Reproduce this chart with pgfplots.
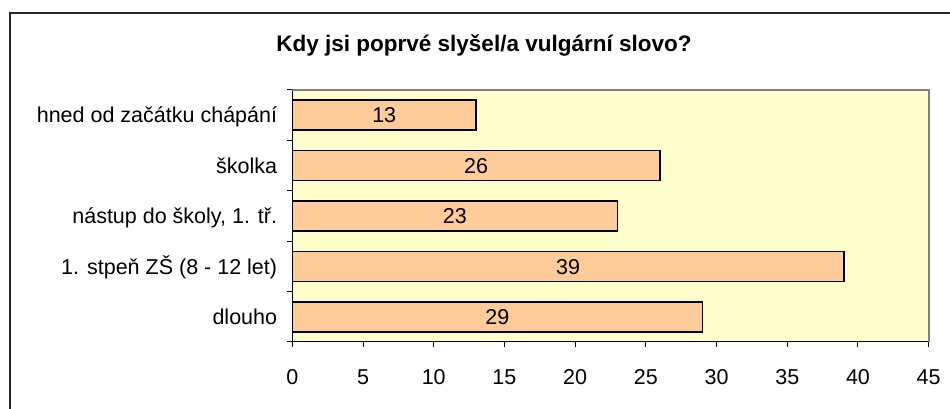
\documentclass[border=0pt]{standalone}
\usepackage{pgfplots}
\pgfplotsset{compat=1.18}
\usepackage{fontspec}
\setmainfont{Liberation Sans}
\definecolor{plotbg}{HTML}{FFFFCC}
\definecolor{barfill}{HTML}{FFCC99}
\newcommand{\lbl}{\fontsize{21.5}{24}\selectfont}
\pgfplotstableread{
x y
29 1
39 2
23 3
26 4
13 5
}\datatable
\begin{document}
\begin{tikzpicture}
\useasboundingbox (0pt,0pt) rectangle (950pt,409pt);
\draw[line width=1.3pt, black!85] (10pt,-2pt) -- (10pt,396pt) -- (952pt,396pt);
\node[font=\bfseries\fontsize{22.5}{25}\selectfont, anchor=base] at (484pt,357.3pt) {Kdy jsi poprvé slyšel/a vulgární slovo?};
\begin{axis}[
  at={(292.3pt,67pt)}, anchor=south west,
  scale only axis, width=636.4pt, height=252pt,
  xmin=0, xmax=45, ymin=0.5, ymax=5.5,
  axis x line*=bottom, axis y line*=left,
  axis line style={-, black, line width=1pt},
  axis background/.style={fill=plotbg},
  xtick={0,5,...,45},
  ytick={1,2,3,4,5},
  yticklabels={dlouho, 1. stpeň ZŠ (8 - 12 let), {nástup do školy, 1. tř.}, školka, hned od začátku chápání},
  minor ytick={0.5,1.5,...,5.5},
  tick align=outside,
  major tick length=5pt, minor tick length=5pt,
  major y tick style={draw=none},
  tick style={black, line width=1pt},
  ticklabel style={font=\lbl, text height=15.4pt, text depth=0pt},
  yticklabel style={anchor=east, inner sep=0pt, xshift=-10pt},
  xticklabel style={anchor=north, inner sep=0pt, yshift=-22pt},
  /pgf/number format/assume math mode=true,
  clip=false,
]
\addplot[xbar, bar width=30pt, bar shift=0pt, fill=barfill, draw=black, line width=1.5pt] table[x=x, y=y] {\datatable};
\addplot[draw=none, mark=none, nodes near coords, point meta=rawx, x filter/.expression={x/2},
  nodes near coords style={anchor=center, font=\lbl, text height=15.4pt, text depth=0pt, inner sep=0pt}] table[x=x, y=y] {\datatable};
\draw[gray, line width=1.7pt] (rel axis cs:0,1) -- (rel axis cs:1,1) -- (rel axis cs:1,0);
\end{axis}
\end{tikzpicture}
\end{document}
